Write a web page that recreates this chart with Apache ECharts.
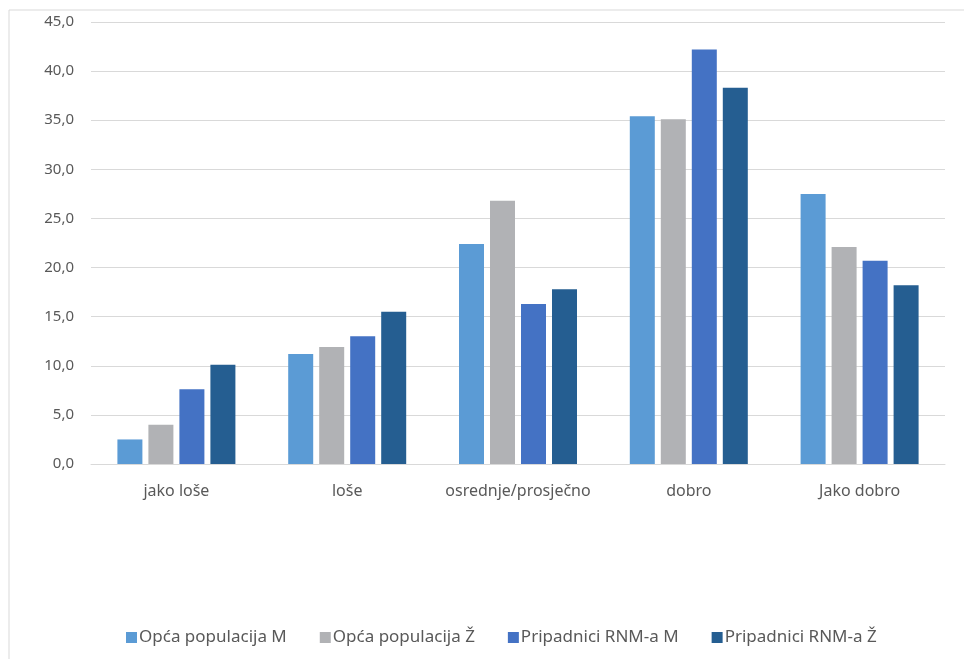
<!DOCTYPE html>
<html>
<head>
<meta charset="utf-8">
<script src="https://cdn.jsdelivr.net/npm/echarts@6/dist/echarts.min.js"></script>
<style>
  html, body { margin: 0; padding: 0; background: #ffffff; }
  #chart { width: 964px; height: 659px; }
</style>
</head>
<body>
<div id="chart"></div>
<script>
// Self-rated health by category, percent
const categories = ['jako loše', 'loše', 'osrednje/prosječno', 'dobro', 'Jako dobro'];
const seriesNames = ['Opća populacija M', 'Opća populacija Ž', 'Pripadnici RNM-a M', 'Pripadnici RNM-a Ž'];
const opcaM = [2.5, 11.2, 22.4, 35.4, 27.5];
const opcaZ = [4.0, 11.9, 26.8, 35.1, 22.1];
const rnmM = [7.6, 13.0, 16.3, 42.2, 20.7];
const rnmZ = [10.1, 15.5, 17.8, 38.3, 18.2];
const colors = ['#5B9BD5', '#B1B2B5', '#4472C4', '#255E91'];

const values = [opcaM, opcaZ, rnmM, rnmZ];
const textColor = '#595959';
const fontFamily = 'Noto Sans, sans-serif';

const chart = echarts.init(document.getElementById('chart'), null, { renderer: 'canvas' });
chart.setOption({
  animation: false,
  color: colors,
  textStyle: { fontFamily: fontFamily },
  graphic: [{
    type: 'rect',
    shape: { x: 9, y: 10, width: 980, height: 700 },
    style: { fill: 'none', stroke: '#D9D9D9', lineWidth: 1 },
    silent: true
  }],
  grid: { left: 91, right: 19, top: 22, bottom: 195, containLabel: false },
  legend: {
    top: 624,
    left: 121,
    itemWidth: 11,
    itemHeight: 11,
    itemGap: 33,
    icon: 'rect',
    textStyle: { color: textColor, fontSize: 17, fontFamily: fontFamily, padding: [0, 0, 0, -3] },
    data: seriesNames
  },
  xAxis: {
    type: 'category',
    data: categories,
    axisLine: { show: true, lineStyle: { color: '#D9D9D9', width: 1 } },
    axisTick: { show: false },
    axisLabel: { color: textColor, fontSize: 16, margin: 19, interval: 0, fontFamily: fontFamily }
  },
  yAxis: {
    type: 'value',
    min: 0,
    max: 45,
    interval: 5,
    axisLine: { show: false },
    axisTick: { show: false },
    splitLine: { lineStyle: { color: '#D9D9D9', width: 1 } },
    axisLabel: {
      color: textColor,
      fontSize: 15,
      margin: 17,
      fontFamily: fontFamily,
      formatter: function (v) { return v.toFixed(1).replace('.', ','); }
    }
  },
  series: seriesNames.map(function (name, i) {
    return {
      name: name,
      type: 'bar',
      data: values[i],
      barWidth: 25,
      barGap: '24%',
      itemStyle: { color: colors[i] }
    };
  })
});
</script>
</body>
</html>
